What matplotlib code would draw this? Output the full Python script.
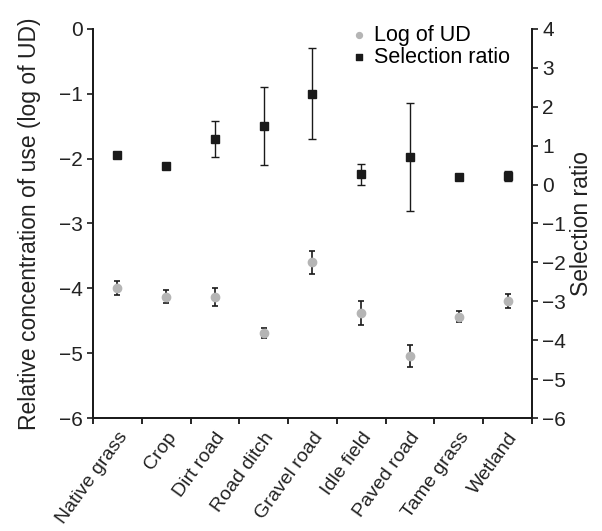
import numpy as np
import matplotlib
matplotlib.use("Agg")
import matplotlib.pyplot as plt
from matplotlib.ticker import FixedLocator, NullFormatter

plt.rcParams['font.family'] = ['Liberation Sans', 'DejaVu Sans']

habitats = ['Native grass', 'Crop', 'Dirt road', 'Road ditch', 'Gravel road',
            'Idle field', 'Paved road', 'Tame grass', 'Wetland']
log_ud = [-4.0, -4.13, -4.13, -4.69, -3.6, -4.38, -5.05, -4.44, -4.2]
log_ud_err = [0.11, 0.1, 0.14, 0.08, 0.18, 0.18, 0.17, 0.085, 0.11]
sel_ratio = [0.77, 0.49, 1.17, 1.51, 2.33, 0.26, 0.71, 0.19, 0.21]
sel_ratio_err = [0.05, 0.02, 0.47, 1.0, 1.17, 0.27, 1.4, 0.05, 0.13]

x = np.arange(len(habitats))
dark = '#1a1a1a'
gray = '#b5b5b5'
txt = '#222222'

fig = plt.figure(figsize=(6.02, 5.31), dpi=100)
ax = fig.add_axes([0.1545, 0.2128, 0.7292, 0.7326])
ax2 = ax.twinx()

ax.errorbar(x, log_ud, yerr=log_ud_err, fmt='o', color=gray, ms=6,
            ecolor=dark, elinewidth=1.2, capsize=2.5, capthick=1.2, zorder=3)
ax2.errorbar(x, sel_ratio, yerr=sel_ratio_err, fmt='s', color=dark, ms=6,
             ecolor=dark, elinewidth=1.0, capsize=3, capthick=1.0, zorder=3)

ax.set_xlim(-0.5, len(habitats) - 0.5)
ax.set_ylim(-6, 0)
ax2.set_ylim(-6, 4)
ax.set_yticks(np.arange(-6, 1, 1))
ax2.set_yticks(np.arange(-6, 5, 1))

ax.set_xticks(x)
ax.set_xticklabels(habitats, rotation=54, ha='right', rotation_mode='anchor',
                   fontsize=14, color=txt)
ax.tick_params(axis='x', length=0, pad=8)
ax.xaxis.set_minor_locator(FixedLocator(np.arange(-0.5, len(habitats), 1)))
ax.xaxis.set_minor_formatter(NullFormatter())
ax.tick_params(axis='x', which='minor', length=4, width=1.2, direction='out')

for a in (ax, ax2):
    a.spines['top'].set_visible(False)
    for s in a.spines.values():
        s.set_linewidth(1.3)
        s.set_color(dark)
    a.tick_params(axis='y', length=4, width=1.2, direction='out', labelsize=15,
                  colors=dark, labelcolor=txt)

ax.set_ylabel('Relative concentration of use (log of UD)', fontsize=16.5, color=txt,
              labelpad=13)
ax2.set_ylabel('Selection ratio', fontsize=16.5, color=txt, labelpad=3)

h1 = ax.scatter([], [], marker='o', color=gray, s=18)
h2 = ax.scatter([], [], marker='s', color=dark, s=22)
ax2.legend([h1, h2], ['Log of UD', 'Selection ratio'], loc='upper right',
           bbox_to_anchor=(0.985, 1.05), frameon=False, fontsize=15.5,
           handlelength=0.6, handletextpad=0.4, labelspacing=0.05, borderpad=0.2)

fig.savefig('out.png', dpi=100)
